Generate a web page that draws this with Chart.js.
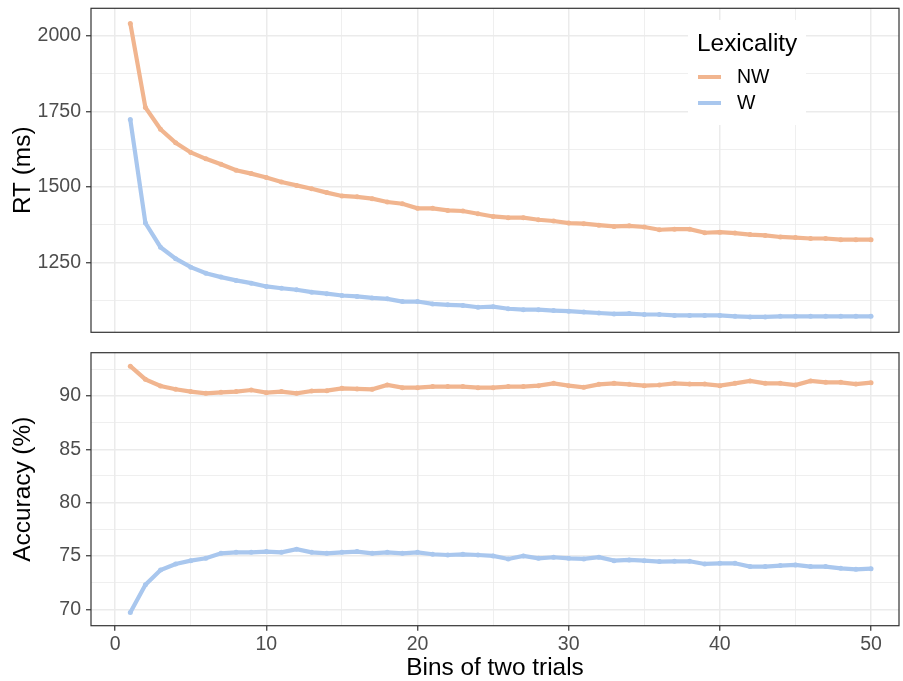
<!DOCTYPE html>
<html>
<head>
<meta charset="utf-8">
<script src="https://cdn.jsdelivr.net/npm/chart.js@4"></script>
<style>
  html, body { margin: 0; padding: 0; background: #fff; }
  #wrap { position: relative; width: 903px; height: 681px; }
  canvas { position: absolute; left: 0; }
  #rt  { top: 0; }
  #acc { top: 342px; }
</style>
</head>
<body>
<div id="wrap">
  <canvas id="rt" width="903" height="342"></canvas>
  <canvas id="acc" width="903" height="339"></canvas>
</div>
<script>
// ---- data ----
const BINS = [1,2,3,4,5,6,7,8,9,10,11,12,13,14,15,16,17,18,19,20,21,22,23,24,25,
              26,27,28,29,30,31,32,33,34,35,36,37,38,39,40,41,42,43,44,45,46,47,48,49,50];

const RT_NW = [2042,1763,1691,1646,1614,1593,1575,1555,1544,1531,1516,1505,1494,1481,1470,1467,1461,1450,1444,1429,
               1429,1422,1420,1411,1402,1398,1398,1391,1387,1380,1378,1373,1369,1371,1367,1358,1360,1360,1348,1350,
               1347,1342,1339,1334,1332,1329,1329,1325,1325,1325];
const RT_W  = [1723,1380,1300,1262,1234,1214,1201,1190,1181,1170,1164,1159,1151,1146,1140,1137,1132,1129,1120,1120,
               1112,1109,1107,1101,1103,1096,1093,1093,1090,1088,1085,1082,1079,1080,1077,1077,1074,1074,1074,1074,
               1071,1069,1069,1071,1071,1071,1071,1071,1071,1071];

const ACC_NW = [92.8,91.56,90.94,90.63,90.41,90.25,90.34,90.41,90.56,90.31,90.41,90.25,90.47,90.5,90.72,90.66,90.63,91.03,90.78,90.78,
                90.88,90.88,90.88,90.78,90.78,90.88,90.88,90.97,91.19,90.97,90.81,91.09,91.19,91.09,90.97,91.03,91.19,91.12,91.12,90.97,
                91.19,91.41,91.19,91.19,91.03,91.41,91.28,91.28,91.12,91.25];
const ACC_W  = [69.69,72.29,73.69,74.25,74.56,74.78,75.25,75.34,75.34,75.41,75.34,75.63,75.34,75.25,75.34,75.41,75.25,75.34,75.25,75.34,
                75.16,75.09,75.15,75.09,75.0,74.72,75.0,74.78,74.88,74.78,74.72,74.88,74.56,74.63,74.56,74.47,74.5,74.5,74.25,74.31,
                74.31,74.0,74.0,74.1,74.16,74.0,74.0,73.84,73.75,73.81];

const SERIES = ['NW', 'W'];

// tick positions (major = labelled, minor = thin grid only)
const X_MAJOR   = [0, 10, 20, 30, 40, 50];
const X_MINOR   = [5, 15, 25, 35, 45];
const RT_MAJOR  = [1250, 1500, 1750, 2000];
const RT_MINOR  = [1125, 1375, 1625, 1875];
const ACC_MAJOR = [70, 75, 80, 85, 90];
const ACC_MINOR = [72.5, 77.5, 82.5, 87.5, 92.5];

// ---- style ----
const COLORS = { NW: '#f1b58f', W: '#a9c7ee' };
const FONT = '"Liberation Sans", Arial, sans-serif';
const TICK_FONT  = { family: FONT, size: 19.5 };
const TITLE_FONT = { family: FONT, size: 24.4, lineHeight: 1.2 };
const GRID = '#ebebeb';

function toPoints(ys) {
  return BINS.map((b, i) => ({ x: b, y: ys[i] }));
}

function dataset(name, ys) {
  return {
    label: name,
    data: toPoints(ys),
    borderColor: COLORS[name],
    backgroundColor: COLORS[name],
    borderWidth: 4.2,
    pointRadius: 2.5,
    pointBorderWidth: 0,
    tension: 0,
  };
}

// axis helper: explicit major + minor ticks, fixed thickness, no label padding
function gridAxis(major, minor, size, showTicks, extra) {
  const all = major.concat(minor).sort((a, b) => a - b);
  const isMajor = v => major.includes(v);
  return Object.assign({
    type: 'linear',
    afterBuildTicks: s => { s.ticks = all.map(v => ({ value: v })); },
    afterFit: s => {
      if (s.isHorizontal()) s.height = size; else s.width = size;
      s.paddingTop = 0; s.paddingBottom = 0; s.paddingLeft = 0; s.paddingRight = 0;
    },
    grid: {
      color: GRID,
      lineWidth: c => (c.tick && isMajor(c.tick.value)) ? 1.5 : 0.8,
      tickColor: c => (c.tick && isMajor(c.tick.value)) ? '#333333' : 'rgba(0,0,0,0)',
      drawTicks: showTicks,
      tickLength: 5,
      tickWidth: 1.2,
    },
    border: { display: false },
    ticks: {
      display: showTicks,
      font: TICK_FONT,
      color: '#4d4d4d',
      padding: 5,
      maxRotation: 0,
      autoSkip: false,
      callback: v => isMajor(v) ? String(v) : '',
    },
  }, extra);
}

// panel border drawn over everything
const panelBorder = {
  id: 'panelBorder',
  afterDraw(chart) {
    const { ctx, chartArea: a } = chart;
    ctx.save();
    ctx.strokeStyle = '#333333';
    ctx.lineWidth = 1.2;
    ctx.strokeRect(a.left, a.top, a.right - a.left, a.bottom - a.top);
    ctx.restore();
  },
};

// ggplot-like legend inside the top panel
const insideLegend = {
  id: 'insideLegend',
  afterDraw(chart) {
    const ctx = chart.ctx;
    ctx.save();
    ctx.fillStyle = '#ffffff';
    ctx.fillRect(688, 20, 118, 105);
    ctx.fillStyle = '#000000';
    ctx.textBaseline = 'alphabetic';
    ctx.textAlign = 'left';
    ctx.font = `${TITLE_FONT.size}px ${FONT}`;
    ctx.fillText('Lexicality', 697, 51);
    chart.data.datasets.forEach((ds, i) => {
      const y = 77 + i * 26;
      ctx.strokeStyle = ds.borderColor;
      ctx.lineWidth = 4;
      ctx.beginPath();
      ctx.moveTo(698, y);
      ctx.lineTo(721, y);
      ctx.stroke();
      ctx.fillStyle = '#000000';
      ctx.textBaseline = 'middle';
      ctx.font = `${TICK_FONT.size}px ${FONT}`;
      ctx.fillText(ds.label, 737, y + 1);
    });
    ctx.restore();
  },
};

function yTitle(text) {
  return { display: true, text, font: TITLE_FONT, color: '#000', padding: { top: 9, bottom: 0 } };
}

// -------------------------------------------------------
// Top panel: RT
// -------------------------------------------------------
new Chart(document.getElementById('rt'), {
  type: 'line',
  data: { datasets: [dataset(SERIES[0], RT_NW), dataset(SERIES[1], RT_W)] },
  options: {
    responsive: false,
    animation: false,
    layout: { padding: { top: 8.3, right: 2, bottom: 9.7, left: 0 } },
    plugins: { legend: { display: false }, tooltip: { enabled: false } },
    scales: {
      x: gridAxis(X_MAJOR, X_MINOR, 0, false, { min: -1.6, max: 51.85 }),
      y: gridAxis(RT_MAJOR, RT_MINOR, 91, true, {
        min: 1018, max: 2092,
        title: yTitle('RT (ms)'),
      }),
    },
  },
  plugins: [panelBorder, insideLegend],
});

// -------------------------------------------------------
// Bottom panel: accuracy
// -------------------------------------------------------
const accX = gridAxis(X_MAJOR, X_MINOR, 55.3, true, {
  min: -1.6, max: 51.85,
  title: { display: true, text: 'Bins of two trials', font: { family: FONT, size: 24.4, lineHeight: 1.05 },
           color: '#000', padding: { top: 0, bottom: 0 } },
});
accX.ticks.padding = 2;

new Chart(document.getElementById('acc'), {
  type: 'line',
  data: { datasets: [dataset(SERIES[0], ACC_NW), dataset(SERIES[1], ACC_W)] },
  options: {
    responsive: false,
    animation: false,
    layout: { padding: { top: 10.7, right: 2, bottom: 0, left: 0 } },
    plugins: { legend: { display: false }, tooltip: { enabled: false } },
    scales: {
      x: accX,
      y: gridAxis(ACC_MAJOR, ACC_MINOR, 91, true, {
        min: 68.46, max: 94.06,
        title: yTitle('Accuracy (%)'),
      }),
    },
  },
  plugins: [panelBorder],
});
</script>
</body>
</html>
